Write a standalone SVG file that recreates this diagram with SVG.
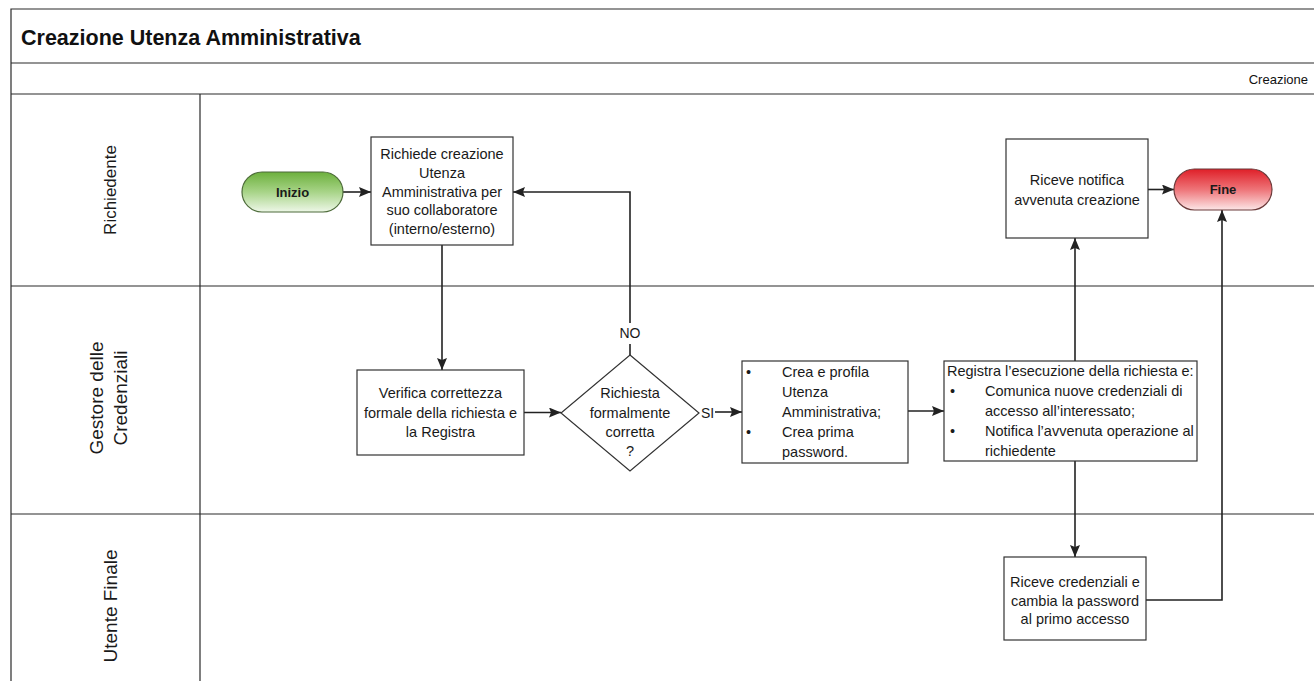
<svg xmlns="http://www.w3.org/2000/svg" width="1314" height="681" viewBox="0 0 1314 681">
<defs>
<style>
.frame{fill:none;stroke:#2a2a2a;stroke-width:1.2}
.box{fill:#ffffff;stroke:#333;stroke-width:1.2}
.t{font-family:"Liberation Sans",Arial,sans-serif;font-size:14.5px;fill:#1a1a1a}
.c{text-anchor:middle}
.lane{font-family:"Liberation Sans",Arial,sans-serif;fill:#1a1a1a;text-anchor:middle}
.pill{font-family:"Liberation Sans",Arial,sans-serif;font-size:13px;font-weight:bold;fill:#1a1a1a;text-anchor:middle}
.conn{fill:none;stroke:#222;stroke-width:1.6}
.lbl{font-family:"Liberation Sans",Arial,sans-serif;font-size:14px;fill:#1a1a1a;text-anchor:middle}
</style>
<linearGradient id="gGreen" x1="0" y1="0" x2="0" y2="1">
<stop offset="0" stop-color="#6cb03c"/>
<stop offset="0.5" stop-color="#a8d488"/>
<stop offset="1" stop-color="#eef7e8"/>
</linearGradient>
<linearGradient id="gRed" x1="0" y1="0" x2="0" y2="1">
<stop offset="0" stop-color="#df1f28"/>
<stop offset="0.5" stop-color="#ee7478"/>
<stop offset="1" stop-color="#fce6e7"/>
</linearGradient>
<marker id="arr" markerUnits="userSpaceOnUse" markerWidth="12" markerHeight="10" refX="12" refY="5" orient="auto">
<path d="M0,0 L12,5 L0,10 L2,5 z" fill="#222"/>
</marker>
</defs>
<rect x="0" y="0" width="1314" height="681" fill="#ffffff"/>
<g id="frame">
<path class="frame" d="M11,681 V9 H1314 M11,63 H1314 M11,94 H1314 M11,286 H1314 M11,514 H1314 M200,94 V681"/>
<text x="21" y="45" font-family="Liberation Sans,Arial,sans-serif" font-size="21.5" font-weight="bold" fill="#111">Creazione Utenza Amministrativa</text>
<text x="1308" y="84" font-family="Liberation Sans,Arial,sans-serif" font-size="13" fill="#111" text-anchor="end">Creazione</text>
</g>
<g id="lanes">
<text class="lane" font-size="17" transform="translate(116,190) rotate(-90)">Richiedente</text>
<text class="lane" font-size="19" transform="translate(103,398) rotate(-90)"><tspan x="0" y="0">Gestore delle</tspan><tspan x="0" y="24">Credenziali</tspan></text>
<text class="lane" font-size="19" transform="translate(117,606) rotate(-90)">Utente Finale</text>
</g>
<g id="connectors">
<path class="conn" d="M343,192 H371" marker-end="url(#arr)"/>
<path class="conn" d="M442,245 V370" marker-end="url(#arr)"/>
<path class="conn" d="M524,412.5 H561" marker-end="url(#arr)"/>
<path class="conn" d="M630,355 V344"/>
<path class="conn" d="M630,323 V192 H513" marker-end="url(#arr)"/>
<text class="lbl" x="630" y="338">NO</text>
<text class="lbl" x="707.5" y="418">SI</text>
<path class="conn" d="M715,412 H742" marker-end="url(#arr)"/>
<path class="conn" d="M908,411 H944" marker-end="url(#arr)"/>
<path class="conn" d="M1075,361 V238" marker-end="url(#arr)"/>
<path class="conn" d="M1075,461 V557" marker-end="url(#arr)"/>
<path class="conn" d="M1148,189.5 H1174" marker-end="url(#arr)"/>
<path class="conn" d="M1146,600 H1222 V210" marker-end="url(#arr)"/>
</g>
<g id="inizio">
<rect x="242" y="172" width="101" height="40" rx="20" ry="20" fill="url(#gGreen)" stroke="#4d6b3a" stroke-width="1.2"/>
<text class="pill" x="292.5" y="196.5">Inizio</text>
</g>
<g id="richiede">
<rect class="box" x="371" y="137" width="142" height="108"/>
<text class="t c"><tspan x="442" y="159">Richiede creazione</tspan><tspan x="442" y="177.8">Utenza</tspan><tspan x="442" y="196.6">Amministrativa per</tspan><tspan x="442" y="215.4">suo collaboratore</tspan><tspan x="442" y="234">(interno/esterno)</tspan></text>
</g>
<g id="verifica">
<rect class="box" x="357" y="370" width="167" height="85"/>
<text class="t c"><tspan x="440.5" y="398">Verifica correttezza</tspan><tspan x="440.5" y="417.5">formale della richiesta e</tspan><tspan x="440.5" y="437">la Registra</tspan></text>
</g>
<g id="decisione">
<polygon class="box" points="630,355 699,413 630,471 561,413"/>
<text class="t c"><tspan x="630" y="398">Richiesta</tspan><tspan x="630" y="417.5">formalmente</tspan><tspan x="630" y="437">corretta</tspan><tspan x="630" y="456">?</tspan></text>
</g>
<g id="crea">
<rect class="box" x="742" y="361" width="166" height="102"/>
<text class="t"><tspan x="746" y="377">•</tspan><tspan x="782" y="377">Crea e profila</tspan><tspan x="782" y="397">Utenza</tspan><tspan x="782" y="417">Amministrativa;</tspan><tspan x="746" y="437">•</tspan><tspan x="782" y="437">Crea prima</tspan><tspan x="782" y="457">password.</tspan></text>
</g>
<g id="registra">
<rect class="box" x="944" y="361" width="253" height="100"/>
<text class="t"><tspan x="947" y="376">Registra l’esecuzione della richiesta e:</tspan><tspan x="950" y="396">•</tspan><tspan x="985" y="396">Comunica nuove credenziali di</tspan><tspan x="985" y="416">accesso all’interessato;</tspan><tspan x="950" y="436">•</tspan><tspan x="985" y="436">Notifica l’avvenuta operazione al</tspan><tspan x="985" y="456">richiedente</tspan></text>
</g>
<g id="notifica">
<rect class="box" x="1006" y="139" width="142" height="99"/>
<text class="t c"><tspan x="1077" y="185">Riceve notifica</tspan><tspan x="1077" y="205">avvenuta creazione</tspan></text>
</g>
<g id="fine">
<rect x="1174" y="169" width="98" height="41" rx="20.5" ry="20.5" fill="url(#gRed)" stroke="#6b3a3a" stroke-width="1.2"/>
<text class="pill" x="1223" y="194">Fine</text>
</g>
<g id="credenziali">
<rect class="box" x="1004" y="557" width="142" height="83"/>
<text class="t c"><tspan x="1075" y="587">Riceve credenziali e</tspan><tspan x="1075" y="605.5">cambia la password</tspan><tspan x="1075" y="624">al primo accesso</tspan></text>
</g>
</svg>
